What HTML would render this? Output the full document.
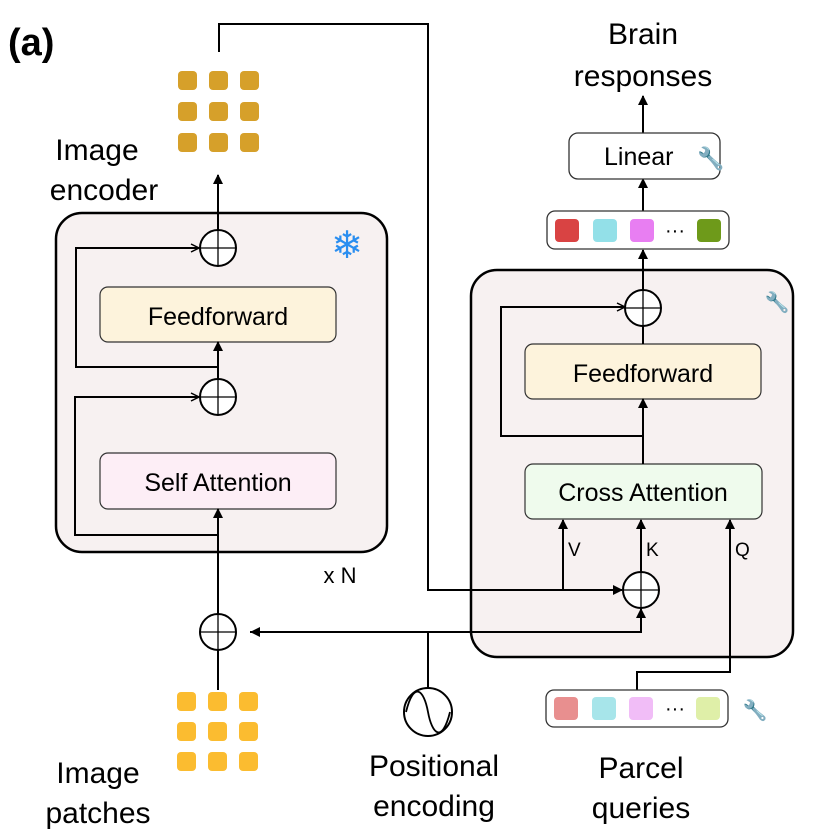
<!DOCTYPE html>
<html><head><meta charset="utf-8"><style>
html,body{margin:0;padding:0;background:#fff}
svg{display:block;font-family:"Liberation Sans",sans-serif}
</style></head><body>
<svg width="820" height="840" viewBox="0 0 820 840" xmlns="http://www.w3.org/2000/svg">
<defs>
<marker id="a" markerWidth="10" markerHeight="10" refX="9" refY="5" orient="auto" markerUnits="userSpaceOnUse">
<path d="M0,0 L10,5 L0,10 z" fill="#000"/></marker>
<marker id="o" markerWidth="10" markerHeight="10" refX="9" refY="5" orient="auto" markerUnits="userSpaceOnUse">
<path d="M1,1 L9,5 L1,9" fill="none" stroke="#000" stroke-width="1.5"/></marker>
</defs>
<text x="8" y="55" font-size="38" font-weight="bold">(a)</text>
<!-- boxes -->
<rect x="56" y="213" width="331" height="339" rx="26" fill="#f7f1f1" stroke="#000" stroke-width="2.5"/>
<rect x="471" y="270" width="322" height="387" rx="26" fill="#f7f1f1" stroke="#000" stroke-width="2.5"/>
<rect x="100" y="287" width="236" height="55" rx="8" fill="#fdf3dc" stroke="#333" stroke-width="1.2"/>
<text x="218" y="325" font-size="25" text-anchor="middle">Feedforward</text>
<rect x="100" y="453" width="236" height="56" rx="8" fill="#fdeef6" stroke="#333" stroke-width="1.2"/>
<text x="218" y="491" font-size="25" text-anchor="middle">Self Attention</text>
<rect x="525" y="344" width="236" height="55" rx="8" fill="#fdf3dc" stroke="#333" stroke-width="1.2"/>
<text x="643" y="382" font-size="25" text-anchor="middle">Feedforward</text>
<rect x="525" y="464" width="237" height="55" rx="8" fill="#effbed" stroke="#333" stroke-width="1.2"/>
<text x="643" y="501" font-size="25" text-anchor="middle">Cross Attention</text>
<g stroke="#000" stroke-width="2" fill="none">
<line x1="218" y1="690" x2="218" y2="614" marker-end="url(#a)"/>
<line x1="218" y1="614" x2="218" y2="509" marker-end="url(#a)"/>
<polyline points="218,535 75,535 75,397 199,397" marker-end="url(#o)"/>
<line x1="218" y1="415" x2="218" y2="342" marker-end="url(#a)"/>
<polyline points="218,367 76,367 76,248 199,248" marker-end="url(#o)"/>
<line x1="218" y1="266" x2="218" y2="175" marker-end="url(#a)"/>
<polyline points="219,52 219,24 428,24 428,590 622,590" marker-end="url(#a)"/>
<polyline points="641,608 641,632 250,632" />
<line x1="428" y1="632" x2="428" y2="688"/>
<line x1="641" y1="632" x2="641" y2="609" marker-end="url(#a)"/>
<line x1="563" y1="590" x2="563" y2="520" marker-end="url(#a)"/>
<line x1="641" y1="572" x2="641" y2="520" marker-end="url(#a)"/>
<polyline points="637,690 637,672 730,672 730,520" marker-end="url(#a)"/>
<line x1="643" y1="464" x2="643" y2="399" marker-end="url(#a)"/>
<polyline points="643,436 501,436 501,307 625,307" marker-end="url(#o)"/>
<line x1="643" y1="344" x2="643" y2="326"/>
<line x1="643" y1="290" x2="643" y2="250" marker-end="url(#a)"/>
<line x1="643" y1="211" x2="643" y2="179" marker-end="url(#a)"/>
<line x1="643" y1="133" x2="643" y2="96" marker-end="url(#a)"/>
</g>
<path d="M250,632 l10,-5 v10 z" fill="#000"/>
<g fill="#fff" stroke="#000" stroke-width="2">
<circle cx="218" cy="248" r="18"/><circle cx="218" cy="397" r="18"/><circle cx="218" cy="632" r="18"/>
<circle cx="643" cy="308" r="18"/><circle cx="641" cy="590" r="18"/>
</g>
<g stroke="#000" stroke-width="1.3">
<line x1="200" y1="248" x2="236" y2="248"/><line x1="218" y1="230" x2="218" y2="266"/>
<line x1="200" y1="397" x2="236" y2="397"/><line x1="218" y1="379" x2="218" y2="415"/>
<line x1="200" y1="632" x2="236" y2="632"/><line x1="218" y1="614" x2="218" y2="650"/>
<line x1="625" y1="308" x2="661" y2="308"/><line x1="643" y1="290" x2="643" y2="326"/>
<line x1="623" y1="590" x2="659" y2="590"/><line x1="641" y1="572" x2="641" y2="608"/>
</g>
<text x="347" y="258" font-size="38" fill="#2a8ef0" text-anchor="middle">❄</text>
<text x="340" y="583" font-size="22" text-anchor="middle">x N</text>
<text x="97" y="160" font-size="30" text-anchor="middle">Image</text>
<text x="104" y="200" font-size="30" text-anchor="middle">encoder</text>
<g fill="#d6a02a">
<rect x="178" y="71" width="19" height="19" rx="4"/><rect x="209" y="71" width="19" height="19" rx="4"/><rect x="240" y="71" width="19" height="19" rx="4"/>
<rect x="178" y="102" width="19" height="19" rx="4"/><rect x="209" y="102" width="19" height="19" rx="4"/><rect x="240" y="102" width="19" height="19" rx="4"/>
<rect x="178" y="133" width="19" height="19" rx="4"/><rect x="209" y="133" width="19" height="19" rx="4"/><rect x="240" y="133" width="19" height="19" rx="4"/>
</g>
<g fill="#fbbc30">
<rect x="177" y="692" width="19" height="19" rx="4"/><rect x="208" y="692" width="19" height="19" rx="4"/><rect x="239" y="692" width="19" height="19" rx="4"/>
<rect x="177" y="722" width="19" height="19" rx="4"/><rect x="208" y="722" width="19" height="19" rx="4"/><rect x="239" y="722" width="19" height="19" rx="4"/>
<rect x="177" y="752" width="19" height="19" rx="4"/><rect x="208" y="752" width="19" height="19" rx="4"/><rect x="239" y="752" width="19" height="19" rx="4"/>
</g>
<text x="98" y="783" font-size="30" text-anchor="middle">Image</text>
<text x="98" y="823" font-size="30" text-anchor="middle">patches</text>
<circle cx="428" cy="712" r="24" fill="#fff" stroke="#000" stroke-width="2"/>
<path d="M406,712 C414,680 424,690 428,712 C432,734 442,744 450,712" fill="none" stroke="#000" stroke-width="1.8"/>
<text x="434" y="776" font-size="30" text-anchor="middle">Positional</text>
<text x="434" y="816" font-size="30" text-anchor="middle">encoding</text>
<text x="568" y="556" font-size="19">V</text>
<text x="646" y="556" font-size="19">K</text>
<text x="735" y="556" font-size="19">Q</text>
<text x="777" y="309" font-size="20" text-anchor="middle">🔧</text>
<rect x="547" y="211" width="182" height="38" rx="8" fill="#fff" stroke="#333" stroke-width="1.3"/>
<rect x="555" y="219" width="24" height="23" rx="4" fill="#d94343"/>
<rect x="593" y="219" width="24" height="23" rx="4" fill="#93e0e8"/>
<rect x="630" y="219" width="24" height="23" rx="4" fill="#e87ef2"/>
<text x="675" y="237" font-size="20" text-anchor="middle">···</text>
<rect x="697" y="219" width="24" height="23" rx="4" fill="#6e9a1a"/>
<rect x="569" y="133" width="151" height="46" rx="9" fill="#fff" stroke="#333" stroke-width="1.3"/>
<text x="604" y="165" font-size="25">Linear</text>
<text x="697" y="166" font-size="22">🔧</text>
<text x="643" y="44" font-size="30" text-anchor="middle">Brain</text>
<text x="643" y="86" font-size="30" text-anchor="middle">responses</text>
<rect x="546" y="690" width="182" height="37" rx="8" fill="#fff" stroke="#333" stroke-width="1.3"/>
<rect x="554" y="697" width="24" height="23" rx="4" fill="#e88f8f"/>
<rect x="592" y="697" width="24" height="23" rx="4" fill="#a7e5ea"/>
<rect x="629" y="697" width="24" height="23" rx="4" fill="#f1bdf7"/>
<text x="675" y="715" font-size="20" text-anchor="middle">···</text>
<rect x="696" y="697" width="24" height="23" rx="4" fill="#dfefa8"/>
<text x="755" y="717" font-size="20" text-anchor="middle">🔧</text>
<text x="641" y="778" font-size="30" text-anchor="middle">Parcel</text>
<text x="641" y="818" font-size="30" text-anchor="middle">queries</text>
</svg>
</body></html>
